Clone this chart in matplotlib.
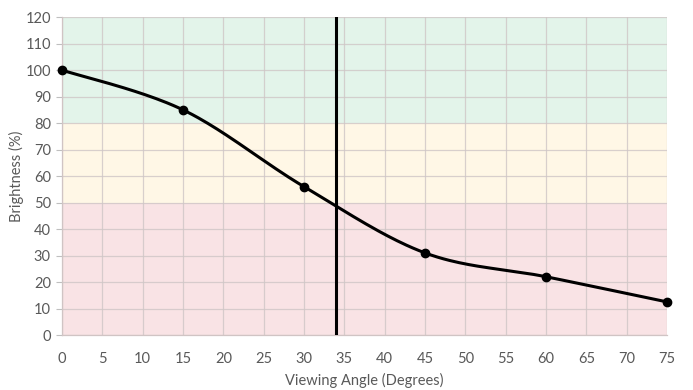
import matplotlib
matplotlib.use("Agg")

import numpy as np
import matplotlib.pyplot as plt

# Data
angles = [0, 15, 30, 45, 60, 75]
brightness = [100, 85, 56, 31, 22, 12.5]
cutoff_angle = 34

x_ticks = list(range(0, 80, 5))
y_ticks = list(range(0, 130, 10))

bands = [(0, 50, "#f9e3e5"), (50, 80, "#fff7e6"), (80, 120, "#e3f4ea")]

TEXT_COLOR = "#595959"


def smooth_curve(xs, ys, n=40):
    # Catmull-Rom style smoothing, like a spreadsheet "smoothed line"
    xs = np.asarray(xs, dtype=float)
    ys = np.asarray(ys, dtype=float)
    px = np.concatenate([[xs[0]], xs, [xs[-1]]])
    py = np.concatenate([[ys[0]], ys, [ys[-1]]])
    out_x, out_y = [], []
    t = np.linspace(0, 1, n)
    for i in range(1, len(px) - 2):
        p0x, p1x, p2x, p3x = px[i - 1], px[i], px[i + 1], px[i + 2]
        p0y, p1y, p2y, p3y = py[i - 1], py[i], py[i + 1], py[i + 2]
        c1x, c1y = p1x + (p2x - p0x) / 6, p1y + (p2y - p0y) / 6
        c2x, c2y = p2x - (p3x - p1x) / 6, p2y - (p3y - p1y) / 6
        bx = (1 - t) ** 3 * p1x + 3 * (1 - t) ** 2 * t * c1x + 3 * (1 - t) * t ** 2 * c2x + t ** 3 * p2x
        by = (1 - t) ** 3 * p1y + 3 * (1 - t) ** 2 * t * c1y + 3 * (1 - t) * t ** 2 * c2y + t ** 3 * p2y
        out_x.extend(bx)
        out_y.extend(by)
    return out_x, out_y


plt.rcParams["font.family"] = ["Lato", "DejaVu Sans"]

fig = plt.figure(figsize=(6.93, 3.9), dpi=100)
ax = fig.add_axes([0.0895, 0.141, 0.873, 0.815])

for lo, hi, color in bands:
    ax.axhspan(lo, hi, color=color, zorder=0, lw=0)

ax.set_xlim(0, 75)
ax.set_ylim(0, 120)
ax.set_xticks(x_ticks)
ax.set_yticks(y_ticks)
ax.grid(True, color="#cfc6c6", lw=0.9, alpha=0.8, zorder=1)

sx, sy = smooth_curve(angles, brightness)
ax.plot(sx, sy, color="black", lw=2.2, zorder=3)
ax.plot(angles, brightness, "o", color="black", ms=6, zorder=4, clip_on=False)
ax.axvline(cutoff_angle, color="black", lw=2.2, zorder=5)

for side in ("top", "right"):
    ax.spines[side].set_visible(False)
for side in ("left", "bottom"):
    ax.spines[side].set_color("#d0c4c4")
    ax.spines[side].set_linewidth(0.9)

ax.tick_params(axis="y", length=4, color="#bfbfbf", labelcolor=TEXT_COLOR, labelsize=10.5, pad=4)
ax.tick_params(axis="x", length=0, labelcolor=TEXT_COLOR, labelsize=10.5, pad=12)

ax.set_xlabel("Viewing Angle (Degrees)", color=TEXT_COLOR, fontsize=10.5, labelpad=5)
ax.set_ylabel("Brightness (%)", color=TEXT_COLOR, fontsize=10.5, labelpad=1)

fig.savefig("out.png", dpi=100)
